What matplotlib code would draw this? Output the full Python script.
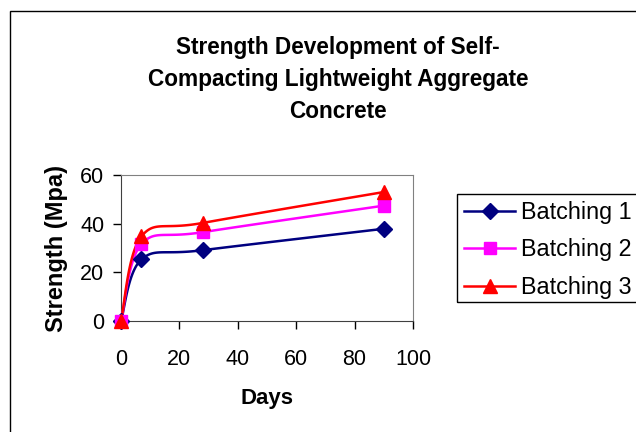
import numpy as np
import matplotlib
matplotlib.use("Agg")
import matplotlib.pyplot as plt
from matplotlib.lines import Line2D
from matplotlib.patches import Rectangle

plt.rcParams['font.family'] = ['Liberation Sans', 'DejaVu Sans']

days = [0, 7, 28, 90]
batch1 = [0, 25.3, 29.1, 37.9]
batch2 = [0, 31.6, 36.5, 47.4]
batch3 = [0, 34.8, 40.3, 53.0]
names = ['Batching 1', 'Batching 2', 'Batching 3']
colors = ['#000080', '#FF00FF', '#FF0000']
markers = ['D', 's', '^']
msizes = [8, 9, 10]


def smooth(x, y, n=40):
    # Catmull-Rom style bezier through the points (like Excel "smoothed line")
    p = np.column_stack([x, y]).astype(float)
    out = [p[:1]]
    t = np.linspace(0, 1, n)[1:, None]
    for i in range(len(p) - 1):
        p0 = p[i - 1] if i > 0 else p[i]
        p3 = p[i + 2] if i + 2 < len(p) else p[i + 1]
        c1 = p[i] + (p[i + 1] - p0) / 6
        c2 = p[i + 1] - (p3 - p[i]) / 6
        seg = ((1 - t) ** 3 * p[i] + 3 * (1 - t) ** 2 * t * c1
               + 3 * (1 - t) * t ** 2 * c2 + t ** 3 * p[i + 1])
        out.append(seg)
    out = np.vstack(out)
    return out[:, 0], out[:, 1]


fig = plt.figure(figsize=(6.36, 4.32), dpi=100)
# outer chart border, runs off the right and bottom edges like the reference
fig.patches.append(Rectangle((10 / 636, -0.1), 1.2, 1.1 - 11 / 432,
                             transform=fig.transFigure, fill=False,
                             edgecolor='black', linewidth=1.0))
# legend box, also cut by the right edge
fig.patches.append(Rectangle((457 / 636, 1 - 302 / 432), 0.5, 108 / 432,
                             transform=fig.transFigure, fill=False,
                             edgecolor='black', linewidth=1.0))

ax = fig.add_axes([121 / 636, 1 - 321 / 432, 292 / 636, 146 / 432])
handles = []
for ys, name, c, m, ms in zip([batch1, batch2, batch3], names, colors, markers, msizes):
    sx, sy = smooth(days, ys)
    ax.plot(sx, sy, color=c, linewidth=1.8, clip_on=False, zorder=3)
    ax.plot(days, ys, linestyle='none', marker=m, color=c, markersize=ms,
            clip_on=False, zorder=4)
    handles.append(Line2D([], [], color=c, linewidth=1.8, marker=m, markersize=ms))

ax.set_xlim(0, 100)
ax.set_ylim(0, 60)
ax.set_xticks([0, 20, 40, 60, 80, 100])
ax.set_yticks([0, 20, 40, 60])
ax.tick_params(direction='out', length=6, width=1, labelsize=15.5, pad=6)
ax.tick_params(axis='x', pad=14)
for s in ['top', 'right']:
    ax.spines[s].set_color('#808080')
for s in ['left', 'bottom']:
    ax.spines[s].set_color('#404040')
ax.set_xlabel('Days', fontsize=16, fontweight='bold', labelpad=13)
ax.set_ylabel('Strength (Mpa)', fontsize=17, fontweight='bold', labelpad=9)

fig.text(338 / 636, 1 - 36 / 432, 'Strength Development of Self-\nCompacting Lightweight Aggregate\nConcrete',
         ha='center', va='top', fontsize=16.3, fontweight='bold', linespacing=1.5)

leg = fig.legend(handles, names, loc='upper left', bbox_to_anchor=(457 / 636, 1 - 194 / 432),
                 fontsize=16.8, frameon=False,
                 handlelength=2.2, handletextpad=0.25, borderpad=0.3, labelspacing=0.62,
                 borderaxespad=0)

fig.savefig('out.png', dpi=100)
